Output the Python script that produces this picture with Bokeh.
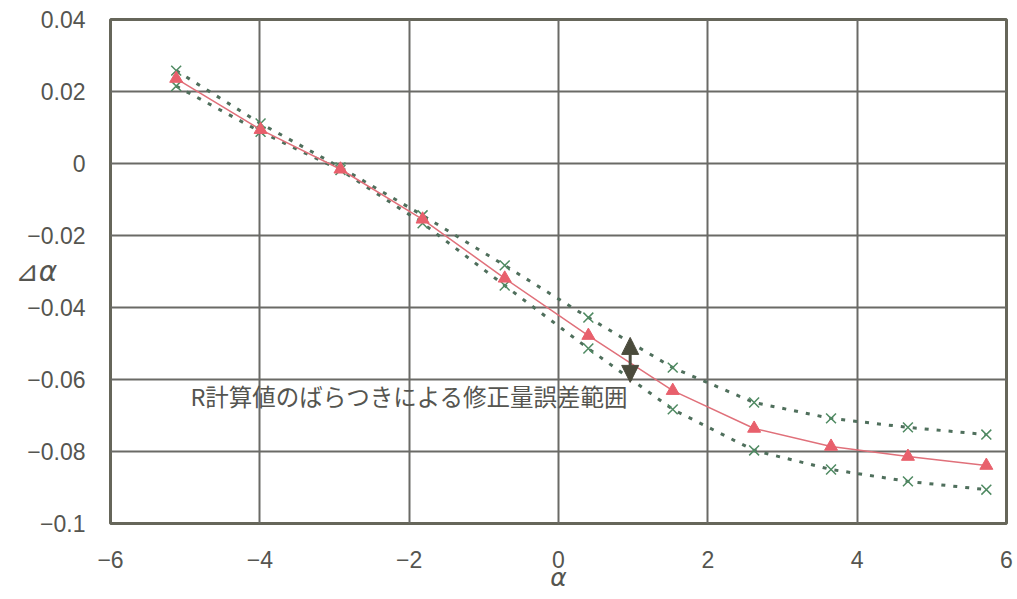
from bokeh.plotting import figure
from bokeh.models import ColumnDataSource, FixedTicker, Label, Arrow, NormalHead, Range1d
from bokeh.embed import file_html
from bokeh.resources import INLINE

# angle of attack and correction values
alpha = [-5.12, -3.99, -2.92, -1.82, -0.72, 0.40, 1.53, 2.62, 3.65, 4.68, 5.73]
delta_mid = [0.0236, 0.0094, -0.0016, -0.0155, -0.0319, -0.0478, -0.0631, -0.0736, -0.0786, -0.0814, -0.0839]
delta_upper = [0.0258, 0.0111, -0.0011, -0.0144, -0.0283, -0.0428, -0.0567, -0.0664, -0.0708, -0.0733, -0.0753]
delta_lower = [0.0215, 0.0088, -0.0018, -0.0166, -0.0339, -0.0514, -0.0683, -0.0797, -0.0850, -0.0883, -0.0906]

x_ticks = [-6, -4, -2, 0, 2, 4, 6]
x_tick_labels = ["\u22126", "\u22124", "\u22122", "0", "2", "4", "6"]
y_ticks = [0.04, 0.02, 0, -0.02, -0.04, -0.06, -0.08, -0.1]
y_tick_labels = ["0.04", "0.02", "0", "\u22120.02", "\u22120.04", "\u22120.06", "\u22120.08", "\u22120.1"]

# error range arrow
arrow_x = 0.96
arrow_top = -0.0483
arrow_bottom = -0.0608
note_text = "R計算値のばらつきによる修正量誤差範囲"

src = ColumnDataSource(dict(x=alpha, mid=delta_mid, up=delta_upper, lo=delta_lower))

p = figure(width=1017, height=599, output_backend="svg", toolbar_location=None,
           x_range=Range1d(-6, 6), y_range=Range1d(-0.1, 0.04),
           min_border_left=110, min_border_right=11, min_border_top=19, min_border_bottom=76)
p.background_fill_color = "white"
p.border_fill_color = "white"
p.outline_line_color = "#66665a"
p.outline_line_width = 3

ink = "#555550"
for ax in (p.xaxis, p.yaxis):
    ax.axis_line_color = None
    ax.major_tick_line_color = None
    ax.minor_tick_line_color = None
    ax.major_label_text_font = "Liberation Sans"
    ax.major_label_text_font_size = "23px"
    ax.major_label_text_color = ink
    ax.axis_label_text_font = "DejaVu Sans"
    ax.axis_label_text_font_style = "italic"
    ax.axis_label_text_color = ink

p.xaxis.ticker = FixedTicker(ticks=x_ticks)
p.yaxis.ticker = FixedTicker(ticks=y_ticks)
p.xaxis.major_label_overrides = {t: s for t, s in zip(x_ticks, x_tick_labels)}
p.yaxis.major_label_overrides = {t: s for t, s in zip(y_ticks, y_tick_labels)}
p.xaxis.major_label_standoff = 21
p.yaxis.major_label_standoff = 19

p.xaxis.axis_label = "\u03b1"
p.xaxis.axis_label_text_font_size = "25px"
p.xaxis.axis_label_standoff = -8
p.yaxis.axis_label = "\u22bf\u03b1"
p.yaxis.axis_label_text_font_size = "28px"
p.yaxis.axis_label_orientation = "horizontal"
p.yaxis.axis_label_standoff = -33

p.xgrid.ticker = FixedTicker(ticks=x_ticks)
p.ygrid.ticker = FixedTicker(ticks=y_ticks)
for g in (p.xgrid, p.ygrid):
    g.grid_line_color = "#6a6a66"
    g.grid_line_width = 2

# upper / lower bounds
for col in ("up", "lo"):
    p.line("x", col, source=src, line_color="#4f6f5c", line_width=3, line_dash="4 8")
    p.scatter("x", col, source=src, marker="x", size=14, line_color="#4f8a62", line_width=1.5)

# central values
p.line("x", "mid", source=src, line_color="#e0707a", line_width=1.5)
p.scatter("x", "mid", source=src, marker="triangle", size=13,
          fill_color="#e8606c", line_color="#e8606c")

head_kw = dict(size=17, fill_color="#4b4b3c", line_color="#4b4b3c")
mid_y = (arrow_top + arrow_bottom) / 2
p.add_layout(Arrow(x_start=arrow_x, y_start=mid_y, x_end=arrow_x, y_end=arrow_top,
                   end=NormalHead(**head_kw), line_color="#4b4b3c", line_width=3))
p.add_layout(Arrow(x_start=arrow_x, y_start=mid_y, x_end=arrow_x, y_end=arrow_bottom,
                   end=NormalHead(**head_kw), line_color="#4b4b3c", line_width=3))

p.add_layout(Label(x=-4.93, y=-0.0647, text=note_text, text_font="Noto Sans CJK JP",
                   text_font_size="23.5px", text_color=ink, text_baseline="middle",
                   text_align="left"))

open("out.html", "w").write(file_html(p, INLINE))
